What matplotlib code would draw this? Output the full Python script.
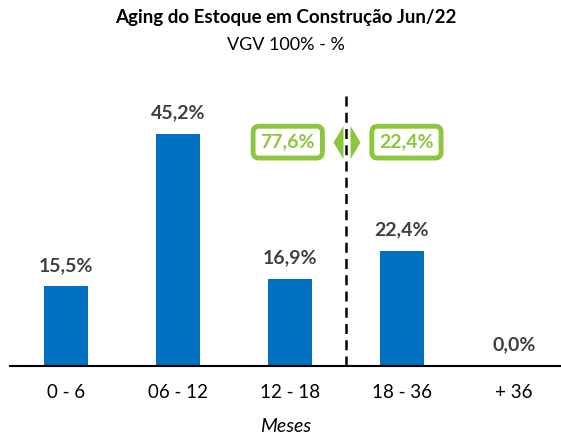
import matplotlib.pyplot as plt

# dati
categorie = ["0 - 6", "06 - 12", "12 - 18", "18 - 36", "+ 36"]
valori = [15.5, 45.2, 16.9, 22.4, 0.0]
quota_sx = "77,6%"
quota_dx = "22,4%"

plt.rcParams['font.family'] = ['Lato', 'DejaVu Sans']

blu = "#0070C0"
verde = "#8CC63F"
grigio = "#404040"

fig = plt.figure(figsize=(5.61, 4.37), dpi=100)
ax = fig.add_axes([10/561, 71/437, 551/561, 306/437])

x = range(len(categorie))
ax.bar(x, valori, width=0.4, color=blu)

for i, v in enumerate(valori):
    ax.annotate(f"{v:.1f}%".replace(".", ","), (i, v), xytext=(0, 9),
                textcoords="offset points", ha="center", va="bottom",
                fontsize=14, fontweight="bold", color=grigio)

ax.set_xlim(-0.5, 4.42)
ax.set_ylim(0, 59.6)

# linea tratteggiata
ax.plot([2.5, 2.5], [0, 52.8], color="black", lw=1.8, ls=(0, (4, 2.5)))

# riquadri verdi
for xc, testo in [(1.98, quota_sx), (3.04, quota_dx)]:
    ax.text(xc, 43.6, testo, ha="center", va="center", fontsize=14,
            fontweight="bold", color=verde,
            bbox=dict(boxstyle="round,pad=0.38,rounding_size=0.3",
                      fc="white", ec=verde, lw=3.5))

# frecce
tri_sx = [(0.3, 1), (-0.3, 0), (0.3, -1), (0.3, 1)]
tri_dx = [(-0.3, 1), (0.3, 0), (-0.3, -1), (-0.3, 1)]
ax.plot([2.43], [43.6], marker=tri_sx, markersize=24, color=verde, mew=0)
ax.plot([2.58], [43.6], marker=tri_dx, markersize=24, color=verde, mew=0)

ax.set_xticks(list(x))
ax.set_xticklabels(categorie, fontsize=13.5)
ax.tick_params(axis="x", length=0, pad=13)
ax.set_yticks([])
for lato in ["top", "right", "left"]:
    ax.spines[lato].set_visible(False)
ax.spines["bottom"].set_linewidth(1.5)

ax.set_xlabel("Meses", fontsize=14, style="italic", labelpad=12)

fig.text(0.51, 1 - 18/437, "Aging do Estoque em Construção Jun/22",
         ha="center", va="center", fontsize=13.5, fontweight="bold")
fig.text(0.51, 1 - 45/437, "VGV 100% - %", ha="center", va="center",
         fontsize=13)

fig.savefig("out.png", dpi=100)
